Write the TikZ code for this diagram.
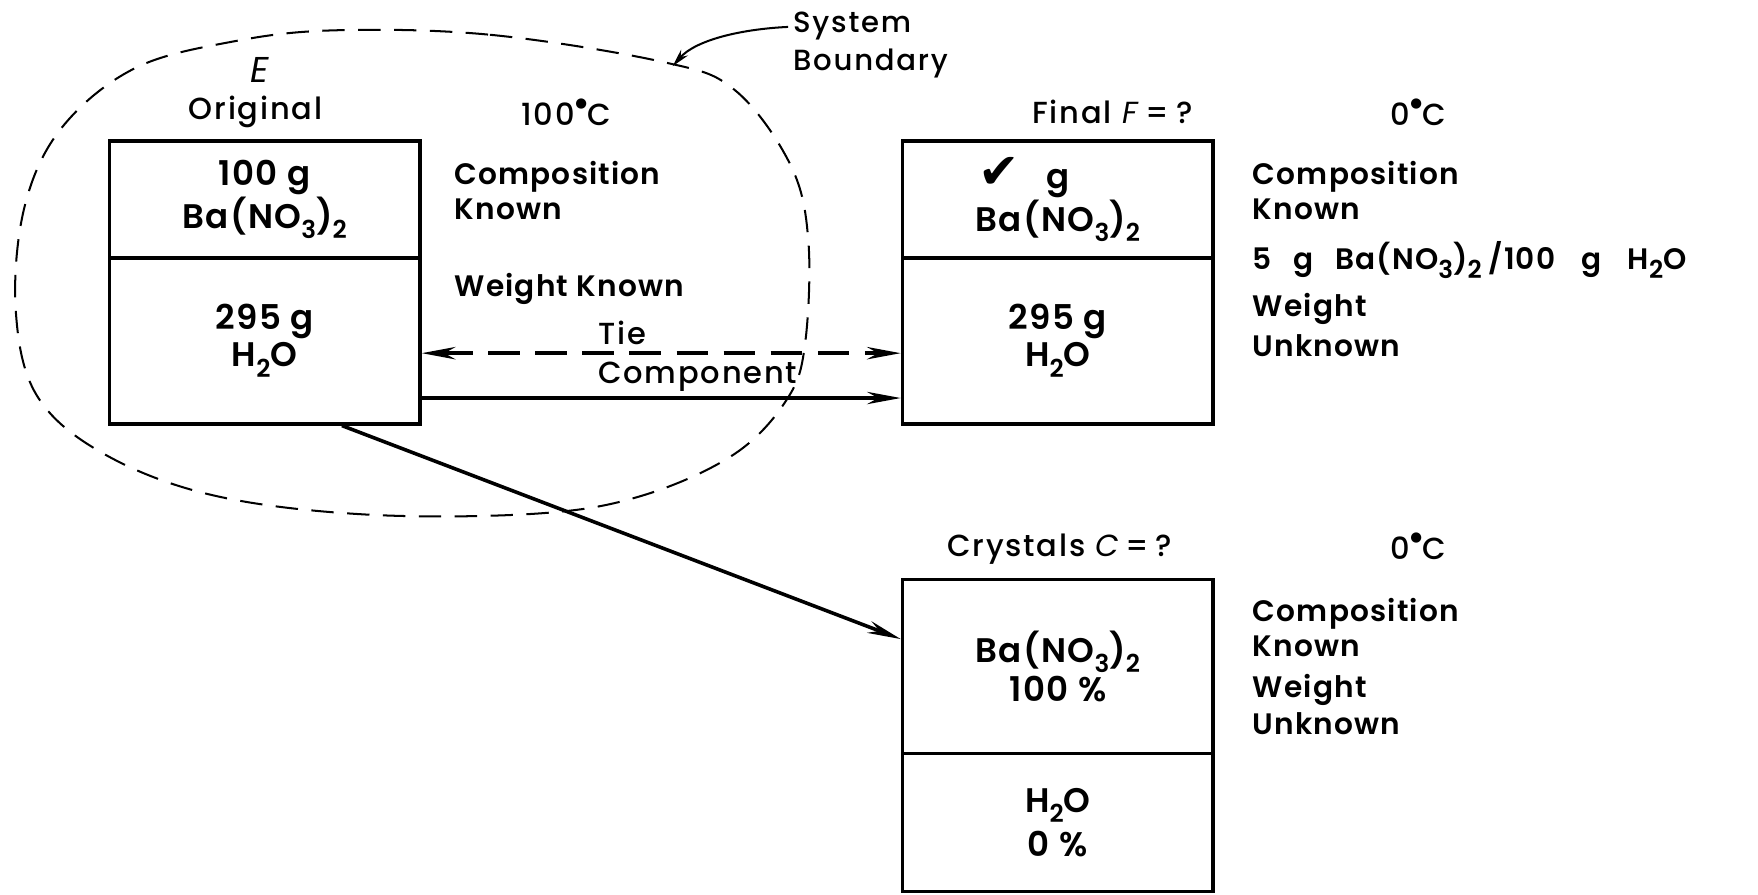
\documentclass[tikz,border=0pt]{standalone}
\usepackage{fontspec}
\setmainfont{Poppins Medium}[LetterSpace=6,ItalicFont={Poppins Italic}]
\newfontfamily\boxfont{Poppins SemiBold}[LetterSpace=4]
\newfontfamily\symfont{DejaVu Sans}
\usetikzlibrary{arrows.meta}
\newcommand{\dg}{\kern0.3pt\raisebox{0.6em}{\symfont\fontsize{6}{6}\selectfont ●}\kern0.3pt}
\newcommand{\sbs}[1]{\raisebox{-0.3em}{\fontsize{11}{11}\selectfont #1}}
\begin{document}
\begin{tikzpicture}[x=0.5pt,y=-0.5pt,
  every node/.style={font=\fontsize{13.6}{15.5}\selectfont,inner sep=0pt},
  comp/.style={draw,line width=1.6pt,minimum width=138.5pt,minimum height=#1,align=center,font=\boxfont\fontsize{15.2}{16.5}\selectfont},
  lbl/.style={anchor=west,align=left,font=\boxfont\fontsize{13.2}{15.5}\selectfont},
  flow/.style={line width=1.6pt,-{Stealth[length=15pt,width=5.5pt]}},
  tie/.style={line width=1.9pt,dash pattern=on 14pt off 7pt,{Stealth[length=15pt,width=5.5pt]}-{Stealth[length=15pt,width=5.5pt]}},
  bound/.style={line width=0.9pt,dash pattern=on 10pt off 6pt},
  pointer/.style={line width=0.9pt,-{Stealth[length=8pt,width=4pt]}}]
\useasboundingbox (0,0) rectangle (1568,798);

% Original
\node[comp=52pt] (o1) at (236,178) {100 g\\Ba(NO\sbs{3})\sbs{2}};
\node[comp=74pt] (o2) at (236,304) {295 g\\H\sbs{2}O};
% Final
\node[comp=52pt] (f1) at (943.5,178) {\llap{{\symfont\fontsize{22}{22}\selectfont ✔}\hspace{12pt}}g\hspace{8pt}\\Ba(NO\sbs{3})\sbs{2}};
\node[comp=74pt] (f2) at (943.5,304) {295 g\\H\sbs{2}O};
% Crystals
\node[comp=77.5pt] (c1) at (943.5,594.5) {Ba(NO\sbs{3})\sbs{2}\\[1pt]100 \%};
\node[comp=61.5pt] (c2) at (943.5,733.5) {H\sbs{2}O\\[3pt]0 \%};

% headings
\node (e) at (232,62) {\fontsize{16}{16}\selectfont\itshape E};
\node (orig) at (228,100) {Original};
\node (t1) at (505,100) {100\dg C};
\node (fin) at (992,100) {Final\hspace{5pt}\textit{F}\hspace{2pt}=\hspace{3pt}?};
\node (t2) at (1265,100) {0\dg C};
\node (cry) at (945,490) {Crystals \textit{C}\hspace{2pt}=\hspace{3pt}?};
\node (t3) at (1265,487) {0\dg C};

% side labels
\node[lbl] (ocomp) at (405,170) {Composition\\Known};
\node[lbl] (owt) at (405,258) {Weight Known};
\node[lbl] (fcomp) at (1117,170) {Composition\\Known};
\node[lbl] (fsol) at (1117,232) {5\hspace{6pt} g\hspace{6pt} Ba(NO\sbs{3})\sbs{2}\hspace{3pt}/100\hspace{8pt} g\hspace{8pt} H\sbs{2}O};
\node[lbl] (fwt) at (1117,290) {Weight\\[2pt]Unknown};
\node[lbl] (ccomp) at (1117,560) {Composition\\Known};
\node[lbl] (cwt) at (1117,628) {Weight\\[1pt]Unknown};

\node (tie) at (555,297) {Tie};
\node[anchor=west] (compo) at (533,336) {Component};

% system boundary label
\node[anchor=west,align=left,font=\fontsize{13}{15}\selectfont] (sb) at (707,40) {System\\[2pt]Boundary};

% connectors
\draw[tie] (o2.east |- 0,315) -- (f2.west |- 0,315);
\draw[flow] (o2.east |- 0,355) -- (f2.west |- 0,355);
\coordinate (dstart) at (305,378);
\coordinate (dend) at (805,570);
\draw[flow] (o2.south -| dstart) -- (c1.west |- dend);

% boundary
\draw[bound] plot[smooth cycle,tension=0.6] coordinates {
 (300,27) (437,31) (590,55) (655,80) (705,147) (721,215) (718,307) (702,356)
 (655,405) (573,442) (480,458) (328,459) (191,442) (93,405) (33,353) (14,276)
 (22,184) (55,114) (120,61) (208,37)};

\coordinate (bs) at (703,24);
\coordinate (bp) at (600,59);
\draw[pointer] (bs) .. controls (660,26) and (620,36) .. (bp);
\end{tikzpicture}
\end{document}
